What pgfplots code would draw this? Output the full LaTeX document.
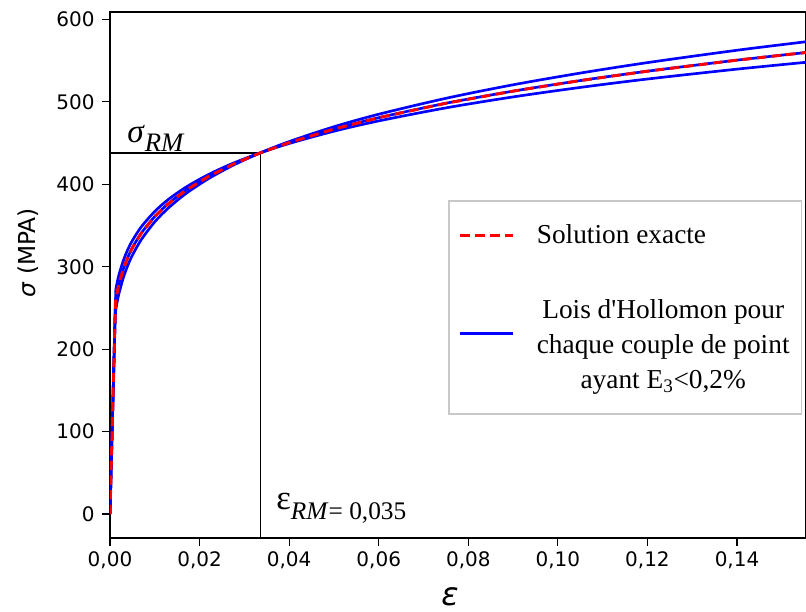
\documentclass[border=0pt]{standalone}
\usepackage{fontspec}
\setmainfont{DejaVu Sans}
\newfontfamily\serif{Liberation Serif}
\usepackage{pgfplots}
\pgfplotsset{compat=1.18}
\definecolor{legborder}{RGB}{200,200,200}
\begin{document}
\begin{tikzpicture}
\begin{axis}[
  scale only axis,
  width=522pt, height=394.5pt,
  xmin=0, xmax=0.1554, ymin=-29, ymax=609,
  xtick={0,0.02,0.04,0.06,0.08,0.10,0.12,0.14},
  ytick={0,100,200,300,400,500,600},
  scaled x ticks=false,
  tick align=outside, major tick length=6pt,
  tick style={black, line width=0.9pt},
  axis line style={black, line width=1pt},
  xtick pos=bottom, ytick pos=left,
  /pgf/number format/assume math mode=true,
  xticklabel style={/pgf/number format/fixed, /pgf/number format/fixed zerofill, /pgf/number format/precision=2, /pgf/number format/use comma, yshift=-1pt},
  ticklabel style={font=\fontsize{15}{18}\selectfont},
  yticklabel style={xshift=-2pt},
  xlabel={\textit{ε}},
  ylabel={\textit{σ} (MPA)},
  xlabel style={font=\fontsize{24}{28}\selectfont, at={(axis description cs:0.4885,-0.112)}, anchor=center},
  ylabel style={font=\fontsize{17.5}{21}\selectfont, at={(axis description cs:-0.118,0.542)}, anchor=center},
  legend image code/.code={\draw[#1] (0pt,0pt) -- (40pt,0pt);},
  legend cell align=left,
  legend style={font=\serif\fontsize{20.5}{26}\selectfont, draw=legborder, line width=1.3pt,
    at={(rel axis cs:0.4856,0.6426)}, anchor=north west,
    nodes={inner sep=2pt},
    inner xsep=7pt, inner ysep=16pt, row sep=32.5pt, column sep=15pt},
  blueline/.style={blue, line width=2pt, forget plot},
  redline/.style={red, line width=2.2pt, dash pattern=on 7pt off 4pt, forget plot},
]
% reference lines
\addplot[black, line width=0.8pt, forget plot] coordinates {(0,438) (0.0335,438)};
\addplot[black, line width=0.8pt, forget plot] coordinates {(0.0335,-29) (0.0335,438)};

% Hollomon laws (elastic part + plastic part)
\addplot[blueline] coordinates {(0,0) (0.001297,272.4)};
\addplot[blueline, smooth, tension=0.5] coordinates {(0.001297,272.4) (0.0015,278.3) (0.002,290.2) (0.003,307.9) (0.004,321.2) (0.005,331.8) (0.007,348.5) (0.010,367.1) (0.013,381.5) (0.017,396.7) (0.022,411.9) (0.0275,425.6) (0.0335,438) (0.040,449.5) (0.050,464.4) (0.060,476.9) (0.075,492.7) (0.090,506.0) (0.105,517.5) (0.120,527.7) (0.140,539.7) (0.156,548.3)};
\addplot[blueline] coordinates {(0,0) (0.00123,257.9)};
\addplot[blueline, smooth, tension=0.5] coordinates {(0.00123,257.9) (0.0015,266.5) (0.002,279.0) (0.003,297.7) (0.004,311.7) (0.005,323.1) (0.007,340.9) (0.010,361.0) (0.013,376.4) (0.017,393.0) (0.022,409.5) (0.0275,424.4) (0.0335,438) (0.040,450.6) (0.050,467.0) (0.060,480.8) (0.075,498.3) (0.090,513.0) (0.105,525.8) (0.120,537.2) (0.140,550.6) (0.156,560.2)};
\addplot[blueline] coordinates {(0,0) (0.001158,243.1)};
\addplot[blueline, smooth, tension=0.5] coordinates {(0.001158,243.1) (0.0015,254.3) (0.002,267.5) (0.003,287.1) (0.004,302.0) (0.005,314.0) (0.007,333.0) (0.010,354.5) (0.013,371.1) (0.017,389.0) (0.022,406.9) (0.0275,423.1) (0.0335,438) (0.040,451.8) (0.050,469.8) (0.060,485.0) (0.075,504.3) (0.090,520.7) (0.105,534.9) (0.120,547.6) (0.140,562.6) (0.156,573.3)};

% exact solution
\addplot[redline] coordinates {(0,0) (0.00123,257.9) (0.0015,266.5) (0.002,279.0) (0.003,297.7) (0.004,311.7) (0.005,323.1) (0.007,340.9) (0.010,361.0) (0.013,376.4) (0.017,393.0) (0.022,409.5) (0.0275,424.4) (0.0335,438) (0.040,450.6) (0.050,467.0) (0.060,480.8) (0.075,498.3) (0.090,513.0) (0.105,525.8) (0.120,537.2) (0.140,550.6) (0.156,560.2)};

\addlegendimage{red, line width=2pt, dash pattern=on 7.5pt off 3.75pt}
\addlegendentry{Solution exacte}
\addlegendimage{blue, line width=2pt, yshift=6.75pt}
\addlegendentry{{\begin{tabular}[b]{@{}c@{}}Lois d'Hollomon pour\\chaque couple de point\\ayant E\textsubscript{3}<0,2\%\rule[-13pt]{0pt}{1pt}\end{tabular}}}

\node[anchor=base west, inner sep=0pt, font=\serif\fontsize{25}{28}\selectfont] at (axis cs:0.0038,451) {\textit{σ}\raisebox{-0.28em}{\fontsize{20}{22}\selectfont\textit{RM}}};
\node[anchor=base west, inner sep=0pt, font=\serif\fontsize{26}{28}\selectfont] at (axis cs:0.0371,5) {ε\raisebox{-0.28em}{\fontsize{19}{22}\selectfont\textit{RM}= 0,035}};
\end{axis}
\pgfresetboundingbox
\path ([shift={(-82.5pt,-55.5pt)}]current axis.south west) rectangle ([shift={(0pt,9pt)}]current axis.north east);
\end{tikzpicture}
\end{document}
